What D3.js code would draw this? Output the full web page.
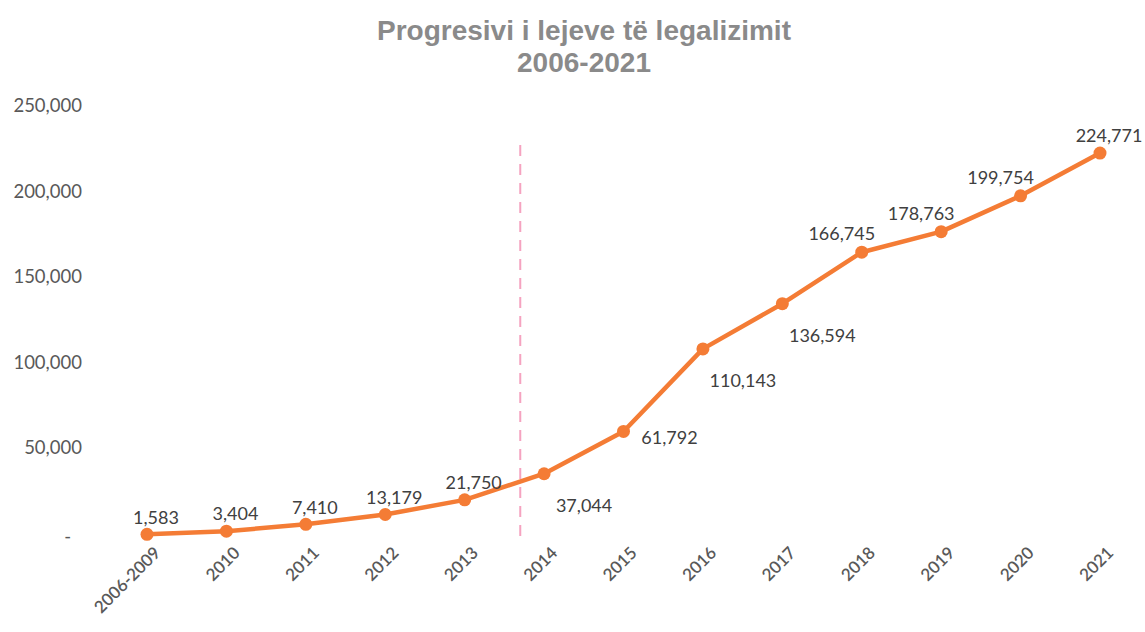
<!DOCTYPE html>
<html>
<head>
<meta charset="utf-8">
<script src="https://cdn.jsdelivr.net/npm/d3@7"></script>
<style>
  body { margin: 0; background: #fff; }
  svg { display: block; }
  .title { font-family: "Liberation Sans", Arial, sans-serif; font-weight: bold; fill: #8a8a8a; }
  .tick-label { font-family: Lato, "Open Sans", sans-serif; fill: #595959; }
  .data-label { font-family: Lato, "Open Sans", sans-serif; fill: #404040; }
</style>
</head>
<body>
<div id="chart"></div>
<script>
// categories and values
const years = ["2006-2009", "2010", "2011", "2012", "2013", "2014", "2015",
               "2016", "2017", "2018", "2019", "2020", "2021"];
const permits = [1583, 3404, 7410, 13179, 21750, 37044, 61792,
                 110143, 136594, 166745, 178763, 199754, 224771];
// where each value label sits relative to its point
const label_side = ["above", "above", "above", "above", "above", "below-right", "right",
                    "below-right", "below-right", "above-left", "above-left", "above-left", "above"];
const y_ticks = [0, 50000, 100000, 150000, 200000, 250000];
const title_lines = ["Progresivi i lejeve të legalizimit", "2006-2021"];
const divider_between = ["2013", "2014"];

const W = 1145, H = 632;
const svg = d3.select("#chart").append("svg")
  .attr("width", W).attr("height", H);

const x = d3.scalePoint().domain(years).range([147, 1100]);
const y = d3.scaleLinear().domain([0, 250000]).range([537, 110]);
const fmt = d3.format(",");

// title
svg.append("g").selectAll("text")
  .data(title_lines)
  .join("text")
    .attr("class", "title")
    .attr("x", 584)
    .attr("y", (d, i) => 40 + i * 32)
    .attr("text-anchor", "middle")
    .style("font-size", "28px")
    .text(d => d);

// y axis labels (no line, no ticks)
const y_axis = d3.axisLeft(y)
  .tickValues(y_ticks)
  .tickSize(0)
  .tickFormat(d => d === 0 ? "-" : fmt(d));
const yg = svg.append("g")
  .attr("transform", "translate(82,0)")
  .call(y_axis);
yg.select(".domain").remove();
yg.selectAll("text")
  .attr("class", "tick-label")
  .attr("dy", d => d === 0 ? "0.3em" : "0.1em")
  .attr("x", d => d === 0 ? -11 : 0)
  .style("font-size", "18.5px");

// x axis labels rotated
const x_axis = d3.axisBottom(x).tickSize(0);
const xg = svg.append("g")
  .attr("transform", "translate(0,548)")
  .call(x_axis);
xg.select(".domain").remove();
xg.selectAll("text")
  .attr("class", "tick-label")
  .style("font-size", "17px")
  .style("font-weight", "600")
  .attr("text-anchor", "end")
  .attr("x", 0).attr("y", 0).attr("dy", 0)
  .attr("transform", "translate(14,6) rotate(-45)");

// dashed divider
const dx = x(divider_between[0]) + 0.7 * (x(divider_between[1]) - x(divider_between[0]));
svg.append("line")
  .attr("x1", dx).attr("x2", dx)
  .attr("y1", 145).attr("y2", 538)
  .attr("stroke", "#f5a3c0")
  .attr("stroke-width", 2)
  .attr("stroke-dasharray", "11,8");

// line
const line = d3.line()
  .x((d, i) => x(years[i]))
  .y(d => y(d));
svg.append("path")
  .datum(permits)
  .attr("fill", "none")
  .attr("stroke", "#f47c35")
  .attr("stroke-width", 4.5)
  .attr("stroke-linejoin", "round")
  .attr("d", line);

svg.append("g").selectAll("circle")
  .data(permits)
  .join("circle")
    .attr("cx", (d, i) => x(years[i]))
    .attr("cy", d => y(d))
    .attr("r", 6.5)
    .attr("fill", "#f47c35");

// value labels
const offsets = {
  "above": [9, -17],
  "below-right": [40, 32],
  "right": [46, 6],
  "above-left": [-20, -18]
};
svg.append("g").selectAll("text")
  .data(permits)
  .join("text")
    .attr("class", "data-label")
    .attr("text-anchor", "middle")
    .style("font-size", "18px")
    .attr("x", (d, i) => x(years[i]) + offsets[label_side[i]][0])
    .attr("y", (d, i) => y(d) + offsets[label_side[i]][1])
    .attr("dy", "0.35em")
    .text(d => fmt(d));
</script>
</body>
</html>
